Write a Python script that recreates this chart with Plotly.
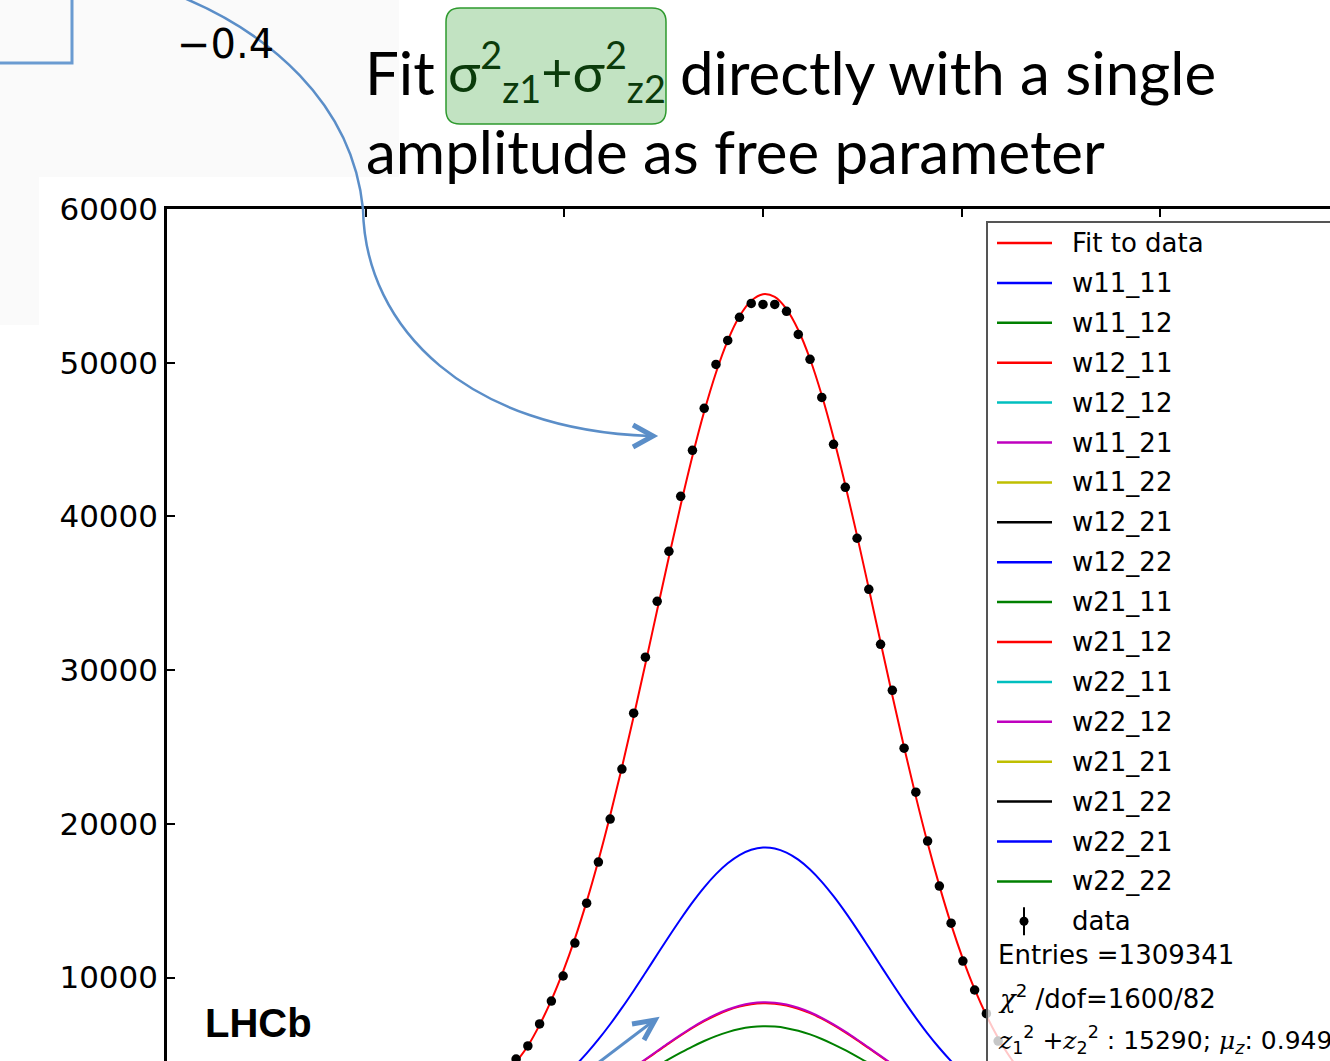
import plotly.graph_objects as go

# ---------------------------------------------------------------- page geometry
W, H = 1330, 1061
L, T = 167, 209                     # top-left corner of the axes box (px)
PW, PH = W - L, H - T


def px(x):
    return (x - L) / PW


def py(y):
    return 1 - (y - T) / PH


def path_of(cmds):
    """SVG path in paper units from (command, [(x, y), ...]) pixel groups.
    'L' groups are expanded so that every vertex gets its own command."""
    out = []
    for c, pts in cmds:
        if c == "L":
            out += [f"L {px(x):.5f},{py(y):.5f}" for x, y in pts]
        else:
            out.append(c + " " + " ".join(f"{px(x):.5f},{py(y):.5f}" for x, y in pts))
    return " ".join(out)


# ---------------------------------------------------------------- data
bin_index = list(range(-22, 23))
bin_width = 0.0592
x_centers = [k * bin_width for k in bin_index]

data_counts = [None,
               4700, 5550, 6980, 8470, 10100, 12240, 14840, 17510, 20310, 23560,
               27200, 30840, 34480, 37730, 41310, 44300, 47030, 49890, 51450, 52950,
               53860, 53790,
               53790, 53340, 51840, 50220, 47740, 44690, 41890, 38580, 35260, 31680,
               28690, 24920, 22060, 18880, 15950, 13540, 11070, 9190, 7650, 5870,
               None, None]

fit_values = [3450,
              4500, 5550, 6920, 8530, 10400, 12530, 14940, 17620, 20540, 23670,
              26980, 30420, 33910, 37380, 40740, 43930, 46820, 49350, 51440, 53020,
              54030, 54460,
              54280, 53490, 52130, 50240, 47880, 45120, 42050, 38750, 35310, 31820,
              28350, 24980, 21770, 18750, 15980, 13460, 11220, 9240, 7530, 6070,
              4830, 3810]

component_names = ["w11_11", "w11_12", "w12_11", "w12_12", "w11_21", "w11_22",
                   "w12_21", "w12_22", "w21_11", "w21_12", "w22_11", "w22_12",
                   "w21_21", "w21_22", "w22_21", "w22_22"]
component_colors = ["#0000ff", "#008000", "#ff0000", "#00bfbf", "#bf00bf", "#bfbf00",
                    "#000000", "#0000ff", "#008000", "#ff0000", "#00bfbf", "#bf00bf",
                    "#bfbf00", "#000000", "#0000ff", "#008000"]
component_peaks = [18460, 6830, 8330, 4100, 8390, 1900, 1900, 1000,
                   400, 400, 400, 400, 400, 300, 800, 415]

y_ticks = [10000, 20000, 30000, 40000, 50000, 60000]
x_ticks = [-3, -2, -1, 0, 1, 2]

entries = 1309341
chi2, ndof = 1600, 82
sum_sigma2, mu_z = 15290, 0.949

# ---------------------------------------------------------------- traces
fig = go.Figure()

fig.add_trace(go.Scatter(x=x_centers, y=fit_values, mode="lines",
                         line=dict(color="#ff0000", width=2, shape="spline"),
                         name="Fit to data", showlegend=False))

fit_peak = max(fit_values)
for name, color, peak in zip(component_names, component_colors, component_peaks):
    fig.add_trace(go.Scatter(x=x_centers, y=[v * peak / fit_peak for v in fit_values],
                             mode="lines", line=dict(color=color, width=2, shape="spline"),
                             name=name, showlegend=False))

fig.add_trace(go.Scatter(x=x_centers, y=data_counts, mode="markers",
                         marker=dict(color="black", size=9.5),
                         name="data", showlegend=False))

# ---------------------------------------------------------------- legend box
shapes = []
annotations = []
ABOVE = dict(xref="paper", yref="paper", layer="above")

shapes.append(dict(type="rect", x0=px(987), x1=px(1345), y0=py(222), y1=py(1080),
                   fillcolor="rgba(255,255,255,0.78)",
                   line=dict(color="#555555", width=2), **ABOVE))

legend_font = dict(family="DejaVu Sans", size=26, color="black")
row0, step = 243, 39.9
legend_rows = [("Fit to data", "#ff0000")] + list(zip(component_names, component_colors))
for i, (label, color) in enumerate(legend_rows):
    yy = row0 + i * step
    shapes.append(dict(type="line", x0=px(997), x1=px(1052), y0=py(yy), y1=py(yy),
                       line=dict(color=color, width=2.5), **ABOVE))
    annotations.append(dict(text=label, x=px(1070), y=py(yy), xref="paper", yref="paper",
                            xanchor="left", yanchor="middle", showarrow=False,
                            font=legend_font))

y_data = row0 + len(legend_rows) * step
shapes.append(dict(type="line", x0=px(1024), x1=px(1024), y0=py(y_data - 14),
                   y1=py(y_data + 14), line=dict(color="black", width=2), **ABOVE))
shapes.append(dict(type="circle", x0=px(1019.5), x1=px(1028.5), y0=py(y_data - 4.5),
                   y1=py(y_data + 4.5), fillcolor="black", line=dict(color="black", width=0),
                   **ABOVE))
annotations.append(dict(text="data", x=px(1070), y=py(y_data), xref="paper", yref="paper",
                        xanchor="left", yanchor="middle", showarrow=False, font=legend_font))

serif_i = "font-family:'DejaVu Serif';font-style:italic"
stat_lines = [
    (955, f"Entries ={entries}", 26),
    (997, f"<span style=\"{serif_i}\">χ</span><sup>2</sup> /dof={chi2}/{ndof}", 26),
    (1040, f"<span style=\"{serif_i}\">z</span><sub>1</sub><sup>2</sup> +"
           f"<span style=\"{serif_i}\">z</span><sub>2</sub><sup>2</sup> : {sum_sigma2}; "
           f"<span style=\"{serif_i}\">μ</span><sub><i>z</i></sub>: {mu_z}", 25),
]
for yy, txt, fs in stat_lines:
    annotations.append(dict(text=txt, x=px(996), y=py(yy), xref="paper", yref="paper",
                            xanchor="left", yanchor="middle", showarrow=False,
                            font=dict(family="DejaVu Sans", size=fs, color="black")))

# ---------------------------------------------------------------- slide decorations
# faint grey panel of the neighbouring figure
shapes.append(dict(type="path", xref="paper", yref="paper", layer="below",
                   path=path_of([("M", [(0, 0)]), ("L", [(399, 0), (399, 177), (39, 177),
                                                          (39, 325), (0, 325)]), ("Z", [])]),
                   fillcolor="#fafafa", line=dict(width=0)))
# corner of a blue frame
shapes.append(dict(type="path", path=path_of([("M", [(-5, 63)]), ("L", [(72, 63), (72, -5)])]),
                   line=dict(color="#6a9bd1", width=3), **ABOVE))

# green highlight box behind the sigma expression
bx0, bx1, by0, by1, r = 446, 666, 8, 124, 14
shapes.append(dict(type="path",
                   path=path_of([("M", [(bx0 + r, by0)]), ("L", [(bx1 - r, by0)]),
                                 ("Q", [(bx1, by0), (bx1, by0 + r)]), ("L", [(bx1, by1 - r)]),
                                 ("Q", [(bx1, by1), (bx1 - r, by1)]), ("L", [(bx0 + r, by1)]),
                                 ("Q", [(bx0, by1), (bx0, by1 - r)]), ("L", [(bx0, by0 + r)]),
                                 ("Q", [(bx0, by0), (bx0 + r, by0)]), ("Z", [])]),
                   fillcolor="#c2e3c2", line=dict(color="#2e9a2e", width=1.5), **ABOVE))

arrow_blue = "#5b8ec8"
# long curved arrow
shapes.append(dict(type="path",
                   path=path_of([("M", [(184, -2)]), ("C", [(265, 32), (352, 100), (363, 209)]),
                                 ("C", [(365, 330), (470, 430), (650, 436)])]),
                   line=dict(color=arrow_blue, width=2.5), **ABOVE))
shapes.append(dict(type="path", path=path_of([("M", [(633, 425)]), ("L", [(653, 436), (633, 447)])]),
                   line=dict(color=arrow_blue, width=5), **ABOVE))
# short arrow near the bottom
shapes.append(dict(type="path", path=path_of([("M", [(598, 1063)]), ("L", [(652, 1022)])]),
                   line=dict(color=arrow_blue, width=3), **ABOVE))
shapes.append(dict(type="path", path=path_of([("M", [(632, 1024)]), ("L", [(655, 1020), (644, 1040)])]),
                   line=dict(color=arrow_blue, width=5), **ABOVE))

title_font = dict(family="Lato", size=60, color="black")
annotations += [
    dict(text="Fit", x=px(363), y=py(72), xanchor="left", yanchor="middle",
         xref="paper", yref="paper", showarrow=False, font=title_font),
    dict(text="σ<sup>2</sup><sub>z1</sub>+σ<sup>2</sup><sub>z2</sub>", x=px(446), y=py(72),
         xanchor="left", yanchor="middle", xref="paper", yref="paper", showarrow=False,
         font=dict(family="Lato", size=54, color="#0b3b0b")),
    dict(text="directly with a single", x=px(678), y=py(72), xanchor="left", yanchor="middle",
         xref="paper", yref="paper", showarrow=False, font=title_font),
    dict(text="amplitude as free parameter", x=px(364), y=py(151), xanchor="left",
         yanchor="middle", xref="paper", yref="paper", showarrow=False, font=title_font),
    dict(text="−0.4", x=px(225), y=py(44), xanchor="center", yanchor="middle",
         xref="paper", yref="paper", showarrow=False,
         font=dict(family="DejaVu Sans", size=40, color="black")),
    dict(text="<b>LHCb</b>", x=px(258), y=py(1023), xanchor="center", yanchor="middle",
         xref="paper", yref="paper", showarrow=False,
         font=dict(family="Liberation Sans", size=40, color="black")),
]

# ---------------------------------------------------------------- layout
fig.update_layout(
    template="none",
    width=W, height=H, autosize=False,
    margin=dict(l=L, r=0, t=T, b=0, pad=0),
    paper_bgcolor="white", plot_bgcolor="white",
    showlegend=False,
    xaxis=dict(range=[(L - 763) / 198.6, (W - 763) / 198.6], side="top",
               showline=True, linecolor="black", linewidth=2.5,
               ticks="inside", ticklen=8, tickwidth=1.5, tickcolor="black",
               tickvals=x_ticks, showticklabels=False, showgrid=False, zeroline=False,
               automargin=False),
    yaxis=dict(range=[4571, 60000], showline=True, linecolor="black", linewidth=2.5,
               ticks="inside", ticklen=8, tickwidth=1.5, tickcolor="black",
               tickvals=y_ticks, ticktext=[str(v) for v in y_ticks],
               tickfont=dict(family="DejaVu Sans", size=31, color="black"),
               showgrid=False, zeroline=False, automargin=False),
    shapes=shapes,
    annotations=annotations,
)

fig.write_html("out.html")
